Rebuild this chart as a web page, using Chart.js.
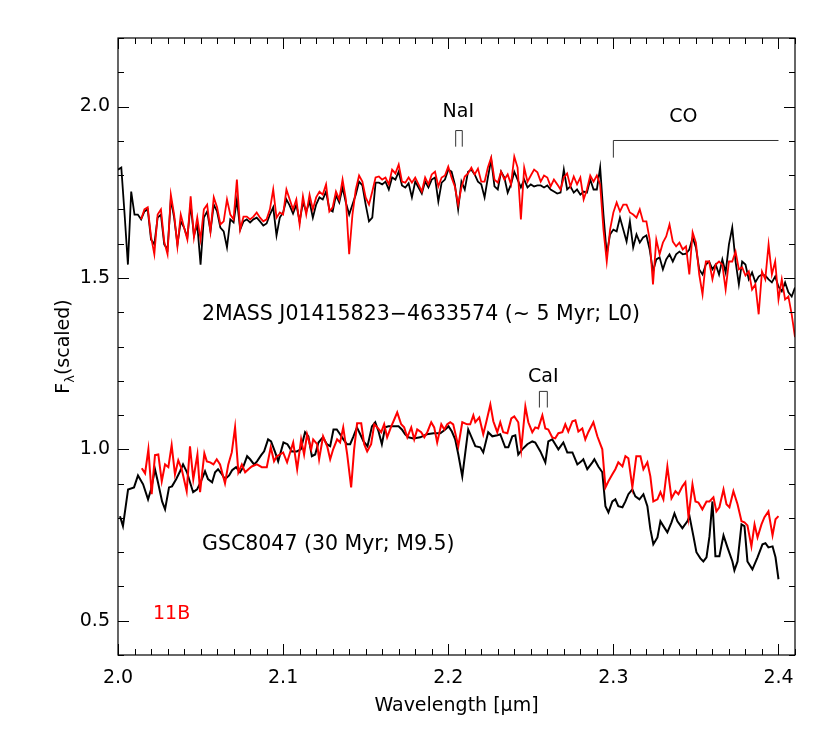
<!DOCTYPE html>
<html>
<head>
<meta charset="utf-8">
<script src="https://cdn.jsdelivr.net/npm/chart.js@4.4.1/dist/chart.umd.min.js"></script>
<style>
  html, body { margin: 0; padding: 0; background: #fff; }
  canvas { display: block; }
</style>
</head>
<body>
<canvas id="espectro" width="830" height="735"></canvas>
<script>
const xTicks = [2.0, 2.1, 2.2, 2.3, 2.4];
const yTicks = [0.5, 1.0, 1.5, 2.0];

// 2MASS J01415823-4633574 (upper pair)
const topWave = [2.000,2.002,2.004,2.006,2.008,2.010,2.012,2.014,2.016,2.018,
  2.020,2.022,2.024,2.026,2.028,2.030,2.032,2.034,2.036,2.038,
  2.040,2.042,2.044,2.046,2.048,2.050,2.052,2.054,2.056,2.058,
  2.060,2.062,2.064,2.066,2.068,2.070,2.072,2.074,2.076,2.078,
  2.080,2.082,2.084,2.086,2.088,2.090,2.092,2.094,2.096,2.098,
  2.100,2.102,2.104,2.106,2.108,2.110,2.112,2.114,2.116,2.118,
  2.120,2.122,2.124,2.126,2.128,2.130,2.132,2.134,2.136,2.138,
  2.140,2.142,2.144,2.146,2.148,2.150,2.152,2.154,2.156,2.158,
  2.160,2.162,2.164,2.166,2.168,2.170,2.172,2.174,2.176,2.178,
  2.180,2.182,2.184,2.186,2.188,2.190,2.192,2.194,2.196,2.198,
  2.200,2.202,2.204,2.206,2.208,2.210,2.212,2.214,2.216,2.218,
  2.220,2.222,2.224,2.226,2.228,2.230,2.232,2.234,2.236,2.238,
  2.240,2.242,2.244,2.246,2.248,2.250,2.252,2.254,2.256,2.258,
  2.260,2.262,2.264,2.266,2.268,2.270,2.272,2.274,2.276,2.278,
  2.280,2.282,2.284,2.286,2.288,2.290,2.292,2.294,2.296,2.298,
  2.300,2.302,2.304,2.306,2.308,2.310,2.312,2.314,2.316,2.318,
  2.320,2.322,2.324,2.326,2.328,2.330,2.332,2.334,2.336,2.338,
  2.340,2.342,2.344,2.346,2.348,2.350,2.352,2.354,2.356,2.358,
  2.360,2.362,2.364,2.366,2.368,2.370,2.372,2.374,2.376,2.378,
  2.380,2.382,2.384,2.386,2.388,2.390,2.392,2.394,2.396,2.398,
  2.400,2.402,2.404,2.406,2.408,2.410];
const topBlack = [1.816,1.822,1.685,1.539,1.752,1.685,1.685,1.671,1.694,1.700,
  1.612,1.598,1.676,1.685,1.598,1.583,1.729,1.676,1.598,1.665,
  1.647,1.618,1.714,1.624,1.656,1.539,1.676,1.694,1.636,1.714,
  1.694,1.647,1.636,1.589,1.671,1.662,1.729,1.641,1.665,1.671,
  1.662,1.671,1.676,1.665,1.653,1.659,1.685,1.706,1.624,1.676,
  1.691,1.729,1.711,1.688,1.714,1.665,1.720,1.694,1.723,1.676,
  1.714,1.735,1.729,1.752,1.700,1.694,1.741,1.720,1.764,1.720,
  1.685,1.714,1.743,1.781,1.770,1.714,1.665,1.676,1.778,1.778,
  1.773,1.781,1.758,1.793,1.787,1.810,1.770,1.764,1.776,1.735,
  1.781,1.764,1.746,1.781,1.764,1.787,1.793,1.723,1.778,1.787,
  1.816,1.810,1.773,1.700,1.781,1.758,1.810,1.816,1.802,1.781,
  1.773,1.735,1.793,1.845,1.767,1.758,1.810,1.793,1.749,1.773,
  1.810,1.787,1.764,1.787,1.764,1.773,1.767,1.770,1.770,1.764,
  1.770,1.758,1.752,1.746,1.749,1.816,1.758,1.767,1.749,1.758,
  1.743,1.752,1.749,1.787,1.758,1.758,1.822,1.685,1.569,1.627,
  1.641,1.636,1.676,1.641,1.606,1.665,1.589,1.627,1.603,1.618,
  1.624,1.583,1.519,1.554,1.560,1.525,1.554,1.569,1.548,1.569,
  1.577,1.569,1.571,1.583,1.618,1.589,1.525,1.510,1.539,1.548,
  1.525,1.539,1.510,1.554,1.516,1.598,1.647,1.548,1.481,1.548,
  1.539,1.496,1.516,1.487,1.504,1.510,1.507,1.496,1.487,1.504,
  1.475,1.461,1.487,1.458,1.446,1.472];
const topRed = [null,null,null,null,null,null,null,1.671,1.700,1.706,
  1.621,1.569,1.685,1.700,1.606,1.569,1.743,1.685,1.592,1.685,
  1.647,1.612,1.738,1.618,1.676,1.612,1.700,1.714,1.636,1.735,
  1.706,1.656,1.665,1.729,1.685,1.671,1.787,1.641,1.679,1.679,
  1.671,1.679,1.691,1.676,1.665,1.671,1.700,1.758,1.676,1.691,
  1.685,1.758,1.729,1.700,1.729,1.656,1.738,1.685,1.743,1.700,
  1.735,1.752,1.743,1.773,1.694,1.706,1.752,1.729,1.787,1.729,
  1.569,1.685,1.758,1.799,1.781,1.735,1.714,1.752,1.793,1.796,
  1.787,1.793,1.773,1.816,1.805,1.831,1.781,1.778,1.793,1.778,
  1.793,1.773,1.752,1.793,1.773,1.802,1.810,1.767,1.793,1.799,
  1.825,1.793,1.767,1.714,1.764,1.796,1.805,1.822,1.802,1.819,
  1.781,1.781,1.822,1.851,1.787,1.778,1.810,1.787,1.802,1.773,
  1.854,1.822,1.671,1.822,1.781,1.799,1.816,1.808,1.781,1.799,
  1.793,1.767,1.787,1.773,1.758,1.793,1.805,1.767,1.796,1.773,
  1.793,1.729,1.758,1.799,1.781,1.799,1.773,1.641,1.548,1.641,
  1.691,1.720,1.694,1.714,1.714,1.691,1.685,1.676,1.700,1.665,
  1.665,1.612,1.481,1.612,1.569,1.603,1.621,1.656,1.606,1.592,
  1.603,1.583,1.592,1.510,1.633,1.603,1.510,1.452,1.548,1.548,
  1.496,1.539,1.548,1.539,1.466,1.548,1.548,1.577,1.525,1.531,
  1.507,1.519,1.466,1.481,1.394,1.519,1.496,1.598,1.510,1.548,
  1.437,1.496,1.437,1.446,1.394,1.327];

// GSC8047 (lower pair), black
const botBlackWave = [2.0012,2.0030,2.0061,2.0097,2.0121,2.0152,2.0182,2.0200,2.0224,2.0242,
  2.0267,2.0285,2.0309,2.0327,2.0352,2.0376,2.0394,2.0418,2.0436,2.0455,
  2.0479,2.0503,2.0527,2.0545,2.0570,2.0588,2.0606,2.0630,2.0648,2.0673,
  2.0691,2.0715,2.0739,2.0758,2.0782,2.0800,2.0824,2.0842,2.0867,2.0885,
  2.0909,2.0927,2.0952,2.0970,2.1002,2.1026,2.1053,2.1083,2.1107,2.1133,
  2.1153,2.1174,2.1194,2.1214,2.1241,2.1265,2.1285,2.1305,2.1325,2.1345,
  2.1365,2.1386,2.1406,2.1426,2.1447,2.1467,2.1487,2.1511,2.1538,2.1558,
  2.1578,2.1598,2.1618,2.1638,2.1668,2.1699,2.1719,2.1739,2.1759,2.1789,
  2.1830,2.1871,2.1911,2.1952,2.1982,2.2002,2.2022,2.2042,2.2061,2.2085,
  2.2121,2.2164,2.2194,2.2212,2.2242,2.2267,2.2297,2.2315,2.2345,2.2364,
  2.2388,2.2406,2.2424,2.2448,2.2479,2.2509,2.2527,2.2558,2.2588,2.2606,
  2.2630,2.2648,2.2667,2.2697,2.2721,2.2752,2.2782,2.2806,2.2818,2.2842,
  2.2873,2.2885,2.2909,2.2933,2.2952,2.2970,2.2994,2.3012,2.3030,2.3055,
  2.3073,2.3091,2.3115,2.3133,2.3158,2.3182,2.3206,2.3224,2.3242,2.3267,
  2.3285,2.3303,2.3327,2.3352,2.3370,2.3388,2.3418,2.3448,2.3461,2.3485,
  2.3503,2.3527,2.3545,2.3564,2.3582,2.3600,2.3618,2.3642,2.3667,2.3691,
  2.3721,2.3733,2.3752,2.3776,2.3794,2.3812,2.3842,2.3873,2.3903,2.3921,
  2.3939,2.3964,2.3982,2.4000];
const botBlackFlux = [0.805,0.776,0.883,0.889,0.924,0.898,0.854,0.883,0.942,0.904,
  0.848,0.825,0.889,0.892,0.913,0.936,0.956,0.933,0.904,0.875,
  0.883,0.907,0.936,0.913,0.904,0.933,0.942,0.927,0.913,0.924,
  0.939,0.948,0.933,0.948,0.980,0.971,0.956,0.965,0.983,0.994,
  1.029,1.023,0.991,0.965,1.020,1.015,0.994,0.994,1.000,1.050,
  1.038,0.980,0.985,1.020,1.035,1.015,1.009,1.058,1.058,1.044,
  1.029,1.015,1.015,1.038,1.064,1.044,1.023,1.009,1.067,1.079,
  1.052,1.015,1.064,1.067,1.067,1.067,1.058,1.044,1.035,1.032,
  1.035,1.044,1.047,1.047,1.058,1.067,1.052,1.029,0.985,0.921,
  1.058,1.009,1.006,0.991,1.050,1.038,1.041,1.044,1.006,1.006,
  1.038,1.041,0.985,1.000,1.015,1.023,1.020,0.994,0.962,1.023,
  1.029,1.015,1.000,1.020,0.991,0.991,0.956,0.965,0.971,0.942,
  0.962,0.971,0.950,0.933,0.834,0.816,0.848,0.854,0.834,0.831,
  0.848,0.869,0.883,0.863,0.854,0.869,0.834,0.767,0.723,0.743,
  0.790,0.776,0.758,0.787,0.813,0.790,0.770,0.790,0.805,0.746,
  0.700,0.682,0.673,0.685,0.746,0.848,0.688,0.688,0.749,0.714,
  0.673,0.647,0.673,0.781,0.776,0.673,0.650,0.685,0.723,0.726,
  0.714,0.717,0.685,0.621];

// GSC8047 (lower pair), red
const botRedWave = [2.0144,2.0164,2.0184,2.0204,2.0224,2.0244,2.0265,2.0285,2.0305,2.0325,
  2.0345,2.0365,2.0386,2.0416,2.0436,2.0456,2.0481,2.0497,2.0523,2.0538,
  2.0558,2.0578,2.0598,2.0618,2.0648,2.0668,2.0689,2.0709,2.0729,2.0750,
  2.0770,2.0790,2.0810,2.0841,2.0871,2.0901,2.0925,2.0945,2.0962,2.0982,
  2.1000,2.1024,2.1061,2.1085,2.1109,2.1127,2.1145,2.1170,2.1182,2.1206,
  2.1218,2.1242,2.1267,2.1285,2.1303,2.1327,2.1345,2.1364,2.1388,2.1412,
  2.1430,2.1448,2.1473,2.1491,2.1509,2.1533,2.1552,2.1570,2.1594,2.1612,
  2.1630,2.1655,2.1673,2.1691,2.1715,2.1733,2.1752,2.1776,2.1794,2.1812,
  2.1836,2.1855,2.1873,2.1897,2.1915,2.1933,2.1958,2.1976,2.1994,2.2012,
  2.2030,2.2061,2.2085,2.2115,2.2133,2.2152,2.2164,2.2188,2.2212,2.2230,
  2.2255,2.2273,2.2297,2.2315,2.2333,2.2358,2.2382,2.2400,2.2424,2.2442,
  2.2467,2.2485,2.2509,2.2527,2.2545,2.2570,2.2588,2.2606,2.2630,2.2648,
  2.2667,2.2691,2.2709,2.2727,2.2752,2.2770,2.2788,2.2812,2.2830,2.2848,
  2.2879,2.2903,2.2921,2.2933,2.2952,2.2970,2.2994,2.3012,2.3030,2.3055,
  2.3073,2.3091,2.3115,2.3139,2.3164,2.3182,2.3206,2.3224,2.3242,2.3267,
  2.3285,2.3303,2.3327,2.3352,2.3376,2.3394,2.3418,2.3436,2.3455,2.3479,
  2.3497,2.3515,2.3539,2.3564,2.3582,2.3606,2.3624,2.3642,2.3667,2.3685,
  2.3703,2.3727,2.3752,2.3776,2.3794,2.3812,2.3836,2.3855,2.3873,2.3897,
  2.3915,2.3939,2.3964,2.3982,2.4000];
const botRedFlux = [0.945,0.930,1.000,0.869,0.983,0.985,0.907,0.956,0.948,1.012,
  0.927,0.968,0.942,0.878,1.009,0.913,0.985,0.875,0.988,0.965,
  0.962,0.956,0.971,0.956,0.901,0.956,0.991,1.064,0.933,0.956,
  0.933,0.942,0.950,0.956,0.948,0.948,1.006,0.965,0.980,0.985,
  0.991,0.962,1.020,0.942,1.029,0.985,1.044,1.000,1.029,1.015,
  0.971,1.038,1.009,0.971,1.000,1.029,1.020,1.064,0.985,0.889,
  1.000,1.076,1.076,1.015,0.994,1.015,1.073,1.064,1.050,1.073,
  1.035,1.067,1.087,1.108,1.073,1.064,1.035,1.064,1.029,1.058,
  1.050,1.035,1.050,1.079,1.064,1.020,1.073,1.058,1.073,1.079,
  1.073,1.009,1.079,1.073,1.073,1.099,1.079,1.093,1.044,1.079,
  1.131,1.082,1.050,1.079,1.050,1.047,1.090,1.096,1.079,1.000,
  1.125,1.079,1.050,1.064,1.061,1.099,1.061,1.058,1.035,1.032,
  1.047,1.050,1.073,1.052,1.082,1.085,1.052,1.061,1.029,1.050,
  1.079,1.038,1.015,1.000,0.889,0.907,0.927,0.942,0.962,0.950,
  0.980,0.974,0.889,0.980,0.980,0.942,0.962,0.921,0.848,0.854,
  0.875,0.854,0.950,0.857,0.878,0.869,0.892,0.904,0.802,0.898,
  0.848,0.845,0.825,0.848,0.848,0.860,0.819,0.831,0.883,0.840,
  0.831,0.878,0.840,0.790,0.787,0.778,0.717,0.781,0.743,0.781,
  0.802,0.819,0.749,0.796,0.805];

// feature markers (µm)
const naIBand = [2.2045, 2.2085];
const caIBand = [2.2552, 2.2600];
const coBand = [2.30, 2.40];

const FONT = 'DejaVu Sans';

function toPoints(xs, ys) {
    return xs.map((x, i) => ({ x: x, y: ys[i] }));
}

// box with inward ticks on all four sides, plus the text annotations
const marcoPlugin = {
    id: 'marco',
    afterDraw(chart) {
        const ctx = chart.ctx;
        const a = chart.chartArea;
        const sx = chart.scales.x;
        const sy = chart.scales.y;
        ctx.save();
        ctx.strokeStyle = '#000';
        ctx.lineWidth = 1.2;
        ctx.strokeRect(a.left, a.top, a.right - a.left, a.bottom - a.top);

        ctx.lineWidth = 1;
        ctx.beginPath();
        for (let k = 0; k <= 41; k++) {
            const px = Math.round(sx.getPixelForValue(2.0 + k * 0.01)) + 0.5;
            const len = (k % 10 === 0) ? 11 : 6;
            ctx.moveTo(px, a.bottom); ctx.lineTo(px, a.bottom - len);
            ctx.moveTo(px, a.top); ctx.lineTo(px, a.top + len);
        }
        for (let k = 4; k <= 22; k++) {
            const py = Math.round(sy.getPixelForValue(k * 0.1)) + 0.5;
            const len = (k % 5 === 0) ? 11 : 6;
            ctx.moveTo(a.left, py); ctx.lineTo(a.left + len, py);
            ctx.moveTo(a.right, py); ctx.lineTo(a.right - len, py);
        }
        ctx.stroke();

        // feature brackets
        ctx.strokeStyle = '#333';
        ctx.lineWidth = 1;
        function bracket(x0, x1, yTop, yBot, rightLeg) {
            const p0 = sx.getPixelForValue(x0), p1 = sx.getPixelForValue(x1);
            const t = sy.getPixelForValue(yTop), b = sy.getPixelForValue(yBot);
            ctx.beginPath();
            ctx.moveTo(p0, b); ctx.lineTo(p0, t); ctx.lineTo(p1, t);
            if (rightLeg) ctx.lineTo(p1, b);
            ctx.stroke();
        }
        bracket(naIBand[0], naIBand[1], 1.930, 1.883, true);
        bracket(caIBand[0], caIBand[1], 1.169, 1.122, true);
        bracket(coBand[0], coBand[1], 1.901, 1.851, false);

        ctx.textBaseline = 'middle';
        function label(txt, x, y, size, align, color) {
            ctx.font = size + 'px "' + FONT + '"';
            ctx.textAlign = align;
            ctx.fillStyle = color || '#000';
            ctx.fillText(txt, sx.getPixelForValue(x), sy.getPixelForValue(y));
        }
        label('NaI', 2.2061, 1.983, 19, 'center');
        label('CO', 2.3424, 1.968, 19, 'center');
        label('CaI', 2.2576, 1.210, 19, 'center');
        label('2MASS J01415823\u22124633574 (~ 5 Myr; L0)', 2.0509, 1.393, 20.5, 'left');
        label('GSC8047 (30 Myr; M9.5)', 2.0509, 0.722, 20.5, 'left');
        label('11B', 2.0212, 0.519, 19, 'left', '#ff0000');

        // axis titles
        ctx.fillStyle = '#000';
        ctx.textAlign = 'center';
        ctx.font = '19px "' + FONT + '"';
        ctx.fillText('Wavelength [\u03bcm]', (a.left + a.right) / 2, 706);

        ctx.translate(62, (a.top + a.bottom) / 2);
        ctx.rotate(-Math.PI / 2);
        ctx.textAlign = 'left';
        ctx.textBaseline = 'alphabetic';
        const big = '19px "' + FONT + '"';
        const small = '13px "' + FONT + '"';
        ctx.font = big;
        const wF = ctx.measureText('F').width;
        const wS = ctx.measureText('(scaled)').width;
        ctx.font = small;
        const wL = ctx.measureText('\u03bb').width;
        let cx = -(wF + wL + wS) / 2;
        ctx.font = big; ctx.fillText('F', cx, 7); cx += wF;
        ctx.font = small; ctx.fillText('\u03bb', cx, 12); cx += wL;
        ctx.font = big; ctx.fillText('(scaled)', cx, 7);
        ctx.restore();
    }
};

const ctx = document.getElementById('espectro').getContext('2d');
const chart = new Chart(ctx, {
    type: 'line',
    data: {
        datasets: [
            { data: toPoints(topWave, topRed), borderColor: '#ff0000', borderWidth: 1.8, order: 0 },
            { data: toPoints(botRedWave, botRedFlux), borderColor: '#ff0000', borderWidth: 2, order: 0 },
            { data: toPoints(topWave, topBlack), borderColor: '#000000', borderWidth: 1.8, order: 1 },
            { data: toPoints(botBlackWave, botBlackFlux), borderColor: '#000000', borderWidth: 2, order: 1 }
        ]
    },
    options: {
        responsive: false,
        animation: false,
        devicePixelRatio: 1,
        layout: { padding: { top: 38, right: 35, left: 0, bottom: 0 } },
        elements: { point: { radius: 0 }, line: { tension: 0, fill: false } },
        plugins: { legend: { display: false }, tooltip: { enabled: false } },
        scales: {
            x: {
                type: 'linear', min: 2.0, max: 2.41,
                grid: { display: false, drawTicks: false },
                border: { display: false },
                afterBuildTicks: s => { s.ticks = xTicks.map(v => ({ value: v })); },
                afterFit: s => { s.height = 80; },
                ticks: {
                    padding: 12, color: '#000', maxRotation: 0, autoSkip: false,
                    font: { family: FONT, size: 19 },
                    callback: v => Number(v).toFixed(1)
                }
            },
            y: {
                type: 'linear', min: 0.4, max: 2.2,
                grid: { display: false, drawTicks: false },
                border: { display: false },
                afterBuildTicks: s => { s.ticks = yTicks.map(v => ({ value: v })); },
                afterFit: s => { s.width = 118; },
                ticks: {
                    padding: 8, color: '#000', autoSkip: false,
                    font: { family: FONT, size: 19 },
                    callback: v => Number(v).toFixed(1)
                }
            }
        }
    },
    plugins: [marcoPlugin]
});
</script>
</body>
</html>
